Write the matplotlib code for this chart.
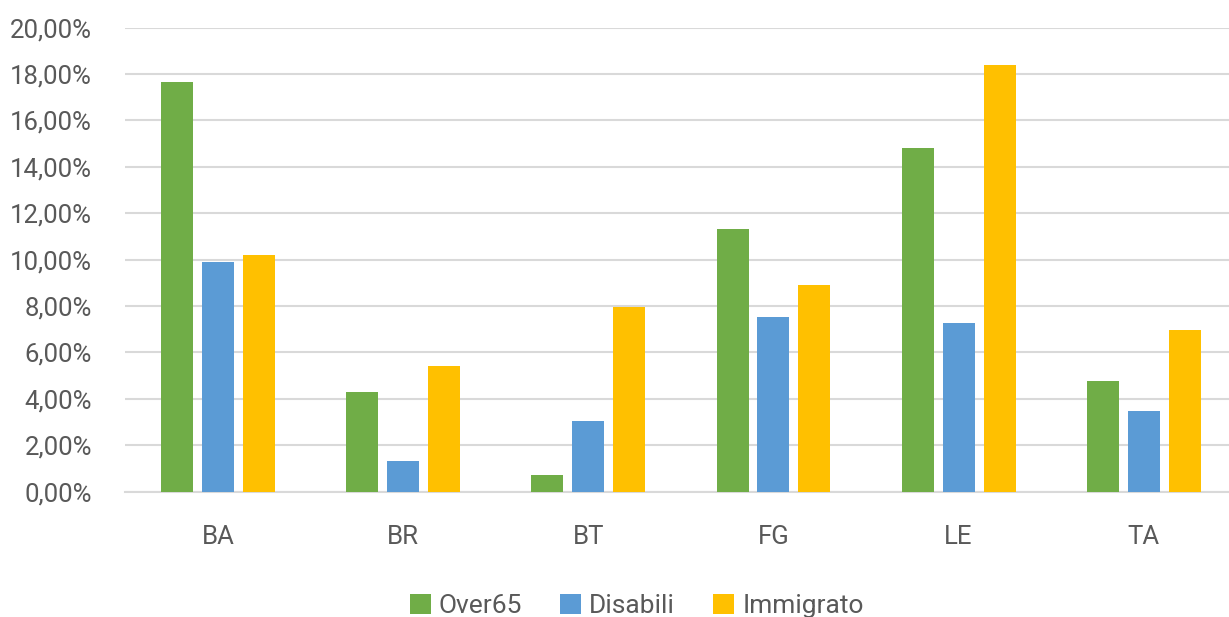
import numpy as np
import matplotlib
matplotlib.use("Agg")
import matplotlib.pyplot as plt
from matplotlib.ticker import FuncFormatter

# Province-level shares per category
provinces = ["BA", "BR", "BT", "FG", "LE", "TA"]
over65 = [17.65, 4.29, 0.71, 11.31, 14.79, 4.76]
disabili = [9.90, 1.31, 3.04, 7.52, 7.25, 3.47]
immigrato = [10.18, 5.41, 7.95, 8.90, 18.38, 6.96]

series_names = ["Over65", "Disabili", "Immigrato"]
colors = ["#70ad47", "#5b9bd5", "#ffc000"]

plt.rcParams["font.family"] = ["Roboto", "DejaVu Sans"]
text_color = "#595959"
grid_color = "#d9d9d9"

fig = plt.figure(figsize=(12.29, 6.17), dpi=100)
ax = fig.add_axes([0.102, 0.2034, 0.904, 0.752])

x = np.arange(len(provinces))
width = 0.173
step = 0.221
for i, (vals, name, c) in enumerate(zip([over65, disabili, immigrato], series_names, colors)):
    ax.bar(x + (i - 1) * step, vals, width=width, color=c, label=name, zorder=3)

ax.set_xlim(-0.5, len(provinces) - 0.5)
ax.set_ylim(0, 20)
ax.set_yticks(np.arange(0, 21, 2))
ax.yaxis.set_major_formatter(FuncFormatter(lambda v, p: f"{v:.2f}%".replace(".", ",")))
ax.set_xticks(x)
ax.set_xticklabels(provinces)

ax.grid(axis="y", color=grid_color, linewidth=1.5, zorder=0)
for side in ["top", "right", "left"]:
    ax.spines[side].set_visible(False)
ax.spines["bottom"].set_color(grid_color)
ax.spines["bottom"].set_linewidth(1.5)
ax.tick_params(axis="both", length=0, labelsize=18.5, colors=text_color)
ax.tick_params(axis="y", pad=24)
ax.tick_params(axis="x", pad=24)

leg = fig.legend(loc="lower center", ncol=3, frameon=False, fontsize=19,
                 bbox_to_anchor=(0.518, -0.04), handlelength=0.8, handleheight=0.8,
                 handletextpad=0.3, columnspacing=1.45)
for t in leg.get_texts():
    t.set_color(text_color)

fig.savefig("out.png", dpi=100)
